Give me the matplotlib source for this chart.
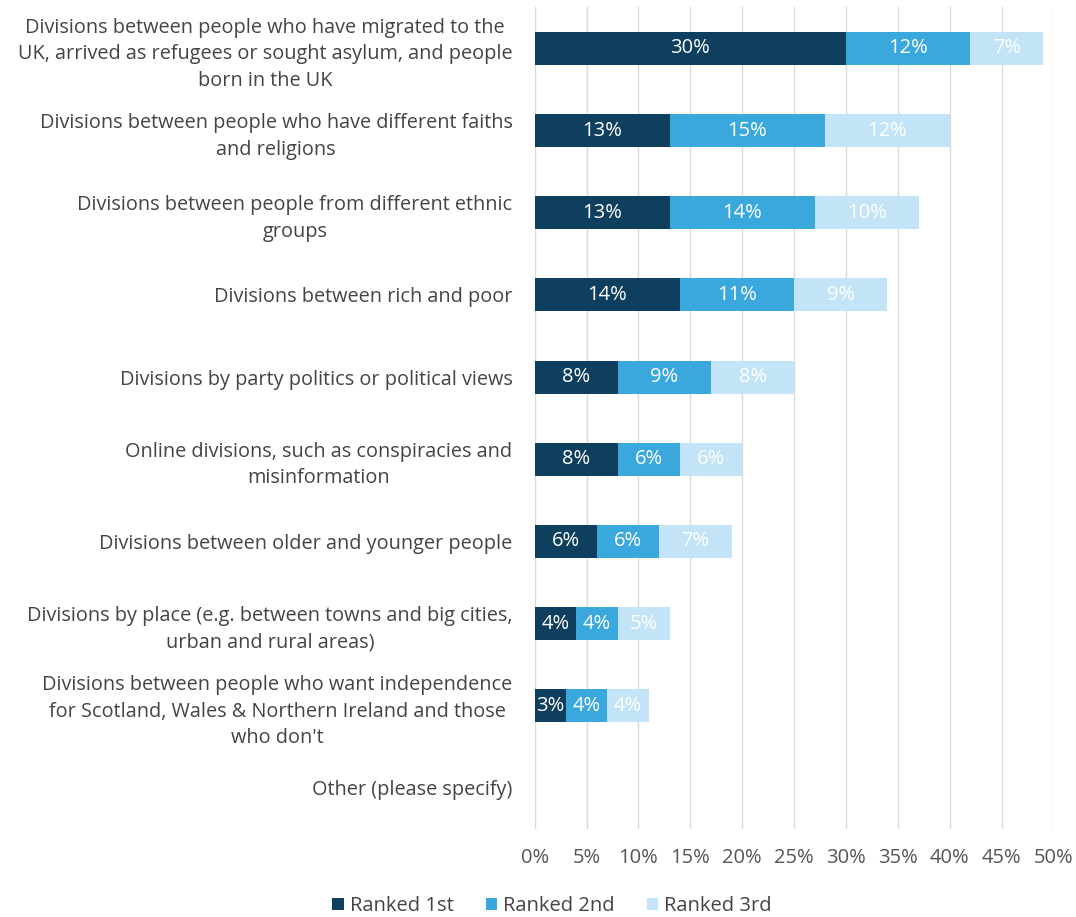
import matplotlib.pyplot as plt
import numpy as np

plt.rcParams['font.family'] = ['Open Sans', 'DejaVu Sans']

categories = [
    "Divisions between people who have migrated to the\nUK, arrived as refugees or sought asylum, and people\nborn in the UK",
    "Divisions between people who have different faiths\nand religions",
    "Divisions between people from different ethnic\ngroups",
    "Divisions between rich and poor",
    "Divisions by party politics or political views",
    "Online divisions, such as conspiracies and\nmisinformation",
    "Divisions between older and younger people",
    "Divisions by place (e.g. between towns and big cities,\nurban and rural areas)",
    "Divisions between people who want independence\nfor Scotland, Wales & Northern Ireland and those\nwho don't",
    "Other (please specify)",
]
ranked_1st = [30, 13, 13, 14, 8, 8, 6, 4, 3, 0]
ranked_2nd = [12, 15, 14, 11, 9, 6, 6, 4, 4, 0]
ranked_3rd = [7, 12, 10, 9, 8, 6, 7, 5, 4, 0]

series = [
    ("Ranked 1st", ranked_1st, "#0f3f5e"),
    ("Ranked 2nd", ranked_2nd, "#3aa8dc"),
    ("Ranked 3rd", ranked_3rd, "#c2e4f6"),
]

fig = plt.figure(figsize=(10.76, 9.17), dpi=100)
ax = fig.add_axes([0.497, 0.096, 0.482, 0.896])

y = np.arange(len(categories))
left = np.zeros(len(categories))
for name, vals, color in series:
    vals = np.array(vals, dtype=float)
    bars = ax.barh(y, vals, left=left, height=0.4, color=color, label=name, zorder=3)
    for b, v in zip(bars, vals):
        if v > 0:
            ax.text(b.get_x() + b.get_width() / 2, b.get_y() + b.get_height() / 2,
                    f"{v:.0f}%", ha='center', va='center', color='white',
                    fontsize=14.5, zorder=4)
    left += vals

ax.set_xlim(0, 50)
ax.set_ylim(len(categories) - 0.5, -0.5)
ax.set_xticks(np.arange(0, 51, 5))
ax.set_xticklabels([f"{t}%" for t in range(0, 51, 5)], fontsize=14.5, color='#555555')
ax.set_yticks(y)
ax.set_yticklabels(categories, fontsize=14.3, color='#444444', ha='right',
                   multialignment='center', linespacing=1.45)
ax.tick_params(axis='y', length=0, pad=16)
ax.tick_params(axis='x', length=0, pad=14)
ax.grid(axis='x', color='#d9d9d9', linewidth=1, zorder=0)
for s in ax.spines.values():
    s.set_visible(False)

ax.legend(loc='upper center', bbox_to_anchor=(0.033, -0.06), ncol=3, frameon=False,
          fontsize=14.5, handlelength=0.55, handleheight=0.55, handletextpad=0.3,
          columnspacing=1.6, labelcolor='#444444')

fig.savefig("out.png", dpi=100, facecolor='white')
